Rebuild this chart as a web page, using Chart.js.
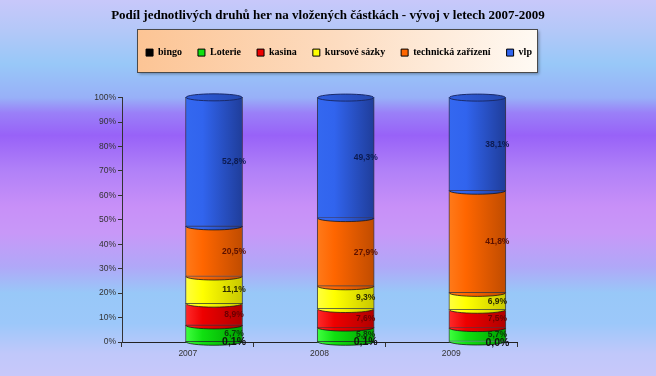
<!DOCTYPE html>
<html><head><meta charset="utf-8">
<script src="https://cdn.jsdelivr.net/npm/chart.js@4/dist/chart.umd.min.js"></script>
<style>html,body{margin:0;padding:0;background:#c8c8fa}canvas{display:block}</style>
</head><body>
<canvas id="c" width="656" height="376"></canvas>
<script>
// ---- data ----
const years = ['2007', '2008', '2009'];
const seriesNames = ['bingo', 'Loterie', 'kasina', 'kursové sázky', 'technická zařízení', 'vlp'];
const bingo = [0.1, 0.1, 0.0];
const loterie = [6.7, 5.8, 5.7];
const kasina = [8.9, 7.6, 7.5];
const kursoveSazky = [11.1, 9.3, 6.9];
const technickaZarizeni = [20.5, 27.9, 41.8];
const vlp = [52.8, 49.3, 38.1];
const yTickStep = 10;
const titleText = 'Podíl jednotlivých druhů her na vložených částkách - vývoj v letech 2007-2009';

// ---- styles ----
const palette = [
  {solid:'#000000', light:'#222222', dark:'#000000', label:'#111111'},
  {solid:'#10e010', light:'#40ff40', dark:'#00a000', label:'#0a3a0a'},
  {solid:'#ee0000', light:'#ff2a2a', dark:'#b00000', label:'#6a0000'},
  {solid:'#ffff00', light:'#ffff40', dark:'#c8c800', label:'#2a2a00'},
  {solid:'#ff6600', light:'#ff7a1a', dark:'#c04c00', label:'#5a1000'},
  {solid:'#3164ee', light:'#3468f0', dark:'#1f3d9a', label:'#0c1a50'}
];
const BAR_W = 57;
const seriesValues = [bingo, loterie, kasina, kursoveSazky, technickaZarizeni, vlp];

function barFill(i) {
  return function (c) {
    const ch = c.chart, xs = ch.scales.xb;
    if (!xs || c.type !== 'data') return palette[i].solid;
    const cx = xs.getPixelForValue(c.dataIndex);
    const g = ch.ctx.createLinearGradient(cx - BAR_W / 2, 0, cx + BAR_W / 2, 0);
    g.addColorStop(0, palette[i].light);
    g.addColorStop(0.3, palette[i].solid);
    g.addColorStop(1, palette[i].dark);
    return g;
  };
}

const fmt = v => v.toFixed(1).replace('.', ',') + '%';

const bgPlugin = {
  id: 'bg',
  afterLayout(chart) {
    // centre the legend row inside its framed box
    if (chart.legend) { chart.legend.left += 11; chart.legend.right += 11; }
  },
  beforeDraw(chart) {
    const ctx = chart.ctx, W = chart.width, H = chart.height;
    const g = ctx.createLinearGradient(0, 0, 0, H);
    [[0,'#c8c8fa'],[0.08,'#b4c8f8'],[0.17,'#98c8f8'],[0.26,'#98b0f8'],[0.30,'#9a80f8'],
     [0.36,'#9862f8'],[0.45,'#b080f8'],[0.55,'#c890f8'],[0.62,'#c898f8'],[0.71,'#b0a8f8'],
     [0.78,'#98c8f8'],[0.86,'#9cc8fa'],[0.94,'#c0c8fa'],[1,'#c8c8fa']].forEach(s => g.addColorStop(s[0], s[1]));
    ctx.save();
    ctx.fillStyle = g; ctx.fillRect(0, 0, W, H);
    // legend frame
    const lx = 137, ly = 29, lw = 400, lh = 43;
    ctx.shadowColor = 'rgba(0,0,0,0.35)'; ctx.shadowBlur = 3; ctx.shadowOffsetX = 2; ctx.shadowOffsetY = 2;
    const lg = ctx.createLinearGradient(lx, ly, lx + lw, ly + lh);
    lg.addColorStop(0, '#fcc494'); lg.addColorStop(0.5, '#fddcc0'); lg.addColorStop(1, '#fffaf4');
    ctx.fillStyle = lg; ctx.fillRect(lx, ly, lw, lh);
    ctx.shadowColor = 'transparent';
    ctx.strokeStyle = '#4a4a4a'; ctx.lineWidth = 1;
    ctx.strokeRect(lx + 0.5, ly + 0.5, lw, lh);
    ctx.restore();
  }
};

const cylPlugin = {
  id: 'cyl',
  afterDatasetsDraw(chart) {
    const ctx = chart.ctx, n = chart.data.datasets.length, RY = 3.5;
    for (let j = 0; j < years.length; j++) {
      const els = [];
      for (let i = 0; i < n; i++) els.push(chart.getDatasetMeta(i).data[j]);
      ctx.save();
      for (let i = 0; i < n; i++) {
        const el = els[i];
        if (el.base - el.y < 1) continue;
        const rx = el.width / 2;
        ctx.beginPath(); ctx.ellipse(el.x, el.base, rx, RY, 0, 0, Math.PI); ctx.closePath();
        ctx.fillStyle = el.options.backgroundColor; ctx.fill();
        ctx.beginPath(); ctx.ellipse(el.x, el.base, rx - 0.5, RY, 0, 0, Math.PI);
        ctx.strokeStyle = 'rgba(20,20,20,0.75)'; ctx.lineWidth = 1; ctx.stroke();
      }
      const top = els[n - 1];
      const cg = ctx.createLinearGradient(top.x - top.width / 2, 0, top.x + top.width / 2, 0);
      cg.addColorStop(0, '#2f5ee0'); cg.addColorStop(1, '#2448b0');
      ctx.beginPath(); ctx.ellipse(top.x, top.y, top.width / 2 - 0.5, RY, 0, 0, Math.PI * 2);
      ctx.fillStyle = cg; ctx.fill();
      ctx.strokeStyle = '#1a2a6a'; ctx.lineWidth = 1; ctx.stroke();
      // labels
      ctx.textAlign = 'center'; ctx.textBaseline = 'middle';
      for (let i = 0; i < n; i++) {
        const el = els[i];
        const v = seriesValues[i][j];
        if (i === 0) {
          ctx.font = 'bold 10.5px "Liberation Sans", Arial, sans-serif';
          ctx.fillStyle = '#111';
          ctx.fillText(fmt(v), el.x + 20, el.base + 1);
        } else {
          ctx.font = 'bold 8.5px "Liberation Sans", Arial, sans-serif';
          ctx.fillStyle = palette[i].label;
          ctx.fillText(fmt(v), el.x + 20, (el.y + el.base) / 2);
        }
      }
      ctx.restore();
    }
  }
};

const datasets = seriesNames.map((name, i) => ({
  label: name,
  data: seriesValues[i].map((v, k) => ({x: k, y: v})),
  xAxisID: 'xb',
  yAxisID: 'y',
  backgroundColor: barFill(i),
  borderColor: 'rgba(25,25,25,0.75)',
  borderWidth: 1,
  borderSkipped: false,
  barThickness: BAR_W,
  clip: false
}));

new Chart(document.getElementById('c'), {
  type: 'bar',
  data: {labels: years, datasets},
  options: {
    responsive: false,
    animation: false,
    events: [],
    layout: {padding: {left: 0, right: 0, top: 0, bottom: 14}},
    plugins: {
      tooltip: {enabled: false},
      title: {
        display: true, text: titleText, color: '#000',
        font: {family: '"Liberation Serif", "Times New Roman", serif', size: 13, weight: 'bold'},
        padding: {top: 8, bottom: 8}
      },
      subtitle: {display: true, text: ' ', weight: 500, font: {size: 10}, padding: {top: 8, bottom: 10}},
      legend: {
        display: true, position: 'top',
        labels: {
          boxWidth: 7, boxHeight: 7, padding: 16, color: '#000',
          font: {family: '"Liberation Serif", "Times New Roman", serif', size: 10, weight: 'bold'},
          generateLabels: () => seriesNames.map((name, i) => ({
            text: name, fillStyle: palette[i].solid, strokeStyle: '#000', lineWidth: 1,
            hidden: false, datasetIndex: i
          }))
        }
      }
    },
    scales: {
      x: {
        type: 'category', labels: years, position: 'bottom', offset: true,
        grid: {display: true, offset: true, drawOnChartArea: false, drawTicks: true, tickLength: 5, color: '#333'},
        border: {display: true, color: '#222', width: 1},
        ticks: {color: '#333', font: {family: '"Liberation Sans", Arial, sans-serif', size: 8.5}, padding: 2},
        afterFit: s => { s.height = 20; }
      },
      xb: {type: 'linear', display: false, offset: false, min: -0.699, max: 2.301, stacked: true},
      y: {
        type: 'linear', position: 'left', min: 0, max: 100, stacked: true,
        ticks: {stepSize: yTickStep, callback: v => v + '%', color: '#333',
                font: {family: '"Liberation Sans", Arial, sans-serif', size: 8.5}, padding: 2},
        grid: {drawOnChartArea: false, tickLength: 4, color: '#333'},
        border: {display: true, color: '#333', width: 1},
        afterFit: s => { s.width = 122; }
      },
      ySpacer: {
        type: 'linear', axis: 'y', position: 'right', display: true,
        grid: {display: false}, border: {display: false}, ticks: {display: false},
        afterFit: s => { s.width = 139; }
      }
    }
  },
  plugins: [bgPlugin, cylPlugin]
});
</script>
</body></html>
